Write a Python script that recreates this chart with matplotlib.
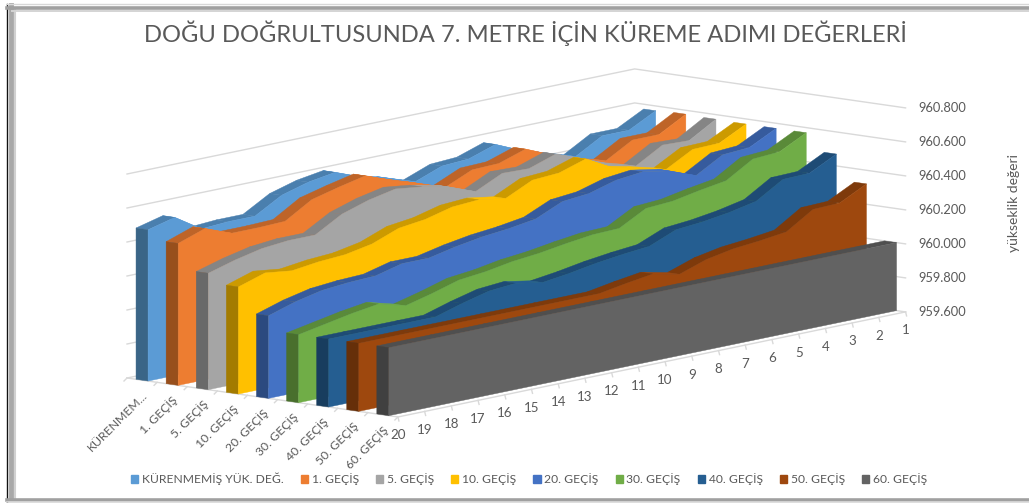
import matplotlib
matplotlib.use("Agg")
import matplotlib.pyplot as plt
from matplotlib.patches import Polygon, Patch
from matplotlib.lines import Line2D

plt.rcParams['font.family'] = ['Lato', 'DejaVu Sans']

TITLE = "DOĞU DOĞRULTUSUNDA 7. METRE İÇİN KÜREME ADIMI DEĞERLERİ"
Z_LABEL = "yükseklik değeri"
categories = list(range(20, 0, -1))
series_names = ["KÜRENMEMİŞ YÜK. DEĞ.", "1. GEÇİŞ", "5. GEÇİŞ", "10. GEÇİŞ", "20. GEÇİŞ",
                "30. GEÇİŞ", "40. GEÇİŞ", "50. GEÇİŞ", "60. GEÇİŞ"]
axis_names = ["KÜRENMEM...", "1. GEÇİŞ", "5. GEÇİŞ", "10. GEÇİŞ", "20. GEÇİŞ",
              "30. GEÇİŞ", "40. GEÇİŞ", "50. GEÇİŞ", "60. GEÇİŞ"]
z_ticks = [959.6, 959.8, 960.0, 960.2, 960.4, 960.6, 960.8]

# values listed from category 20 down to category 1
s_kurenmemis = [960.49, 960.53, 960.43, 960.44, 960.44, 960.53, 960.575, 960.60, 960.54, 960.50,
                960.447, 960.507, 960.516, 960.569, 960.50, 960.45, 960.40, 960.49, 960.49, 960.572]
s_gecis1 = [960.435, 960.49, 960.43, 960.43, 960.435, 960.53, 960.57, 960.605, 960.547, 960.495,
            960.44, 960.51, 960.515, 960.567, 960.50, 960.437, 960.40, 960.49, 960.49, 960.577]
s_gecis5 = [960.285, 960.33, 960.365, 960.38, 960.38, 960.47, 960.52, 960.553, 960.533, 960.50,
            960.44, 960.515, 960.51, 960.563, 960.505, 960.44, 960.395, 960.486, 960.48, 960.573]
s_gecis10 = [960.23, 960.28, 960.26, 960.28, 960.29, 960.32, 960.38, 960.40, 960.44, 960.45,
             960.425, 960.50, 960.51, 960.56, 960.476, 960.44, 960.40, 960.486, 960.49, 960.57]
s_gecis20 = [960.086, 960.135, 960.17, 960.184, 960.19, 960.23, 960.23, 960.264, 960.29, 960.306,
             960.33, 960.40, 960.415, 960.46, 960.477, 960.45, 960.39, 960.48, 960.49, 960.57]
s_gecis30 = [960.00, 960.03, 960.06, 960.083, 960.04, 960.08, 960.126, 960.143, 960.17, 960.186,
             960.21, 960.23, 960.235, 960.32, 960.33, 960.36, 960.385, 960.48, 960.49, 960.57]
s_gecis40 = [960.00, 960.00, 960.00, 960.00, 960.00, 960.047, 960.087, 960.10, 960.072, 960.093,
             960.12, 960.14, 960.155, 960.22, 960.234, 960.257, 960.29, 960.386, 960.39, 960.47]
s_gecis50 = [960.00, 960.00, 960.00, 960.00, 960.00, 960.00, 960.00, 960.00, 960.00, 960.00,
             960.027, 960.05, 960.016, 960.07, 960.10, 960.115, 960.135, 960.235, 960.24, 960.32]
s_gecis60 = [960.00] * 20
all_series = [s_kurenmemis, s_gecis1, s_gecis5, s_gecis10, s_gecis20,
              s_gecis30, s_gecis40, s_gecis50, s_gecis60]

front_colors = ['#5B9BD5', '#ED7D31', '#A5A5A5', '#FFC000', '#4472C4', '#70AD47', '#255E91', '#9E480E', '#636363']
top_colors = ['#4A7FAE', '#BE6428', '#858585', '#CC9A00', '#365B9D', '#5A8A39', '#1E4B75', '#7E3A0B', '#4F4F4F']
side_colors = ['#3A6587', '#974F1C', '#696969', '#A37B00', '#2B4A7F', '#496F2D', '#183D5E', '#662F09', '#404040']
grid_c = '#D9D9D9'
text_c = '#595959'

# oblique projection of the 3D chart box onto figure pixels
OX, OY = 127.0, 378.0          # back-left floor corner
DSX, DSY = 30.1, 4.33          # per series slot
DCX, DCY = 26.72, -5.53        # per category step
ZSCALE = 170.0                 # pixels per unit of elevation
Z0 = 959.6
NS = len(all_series)
NC = len(categories)


def project(k, s, z=Z0):
    return (OX + s * DSX + k * DCX, OY + s * DSY + k * DCY - (z - Z0) * ZSCALE)


fig = plt.figure(figsize=(10.29, 5.03), dpi=100, facecolor='white')
ax = fig.add_axes([0, 0, 1, 1])
ax.set_xlim(0, 1029)
ax.set_ylim(503, 0)
ax.axis('off')

# window frame
ax.add_line(Line2D([6.5, 6.5], [4, 503], color='#111111', lw=1.0))
ax.add_line(Line2D([10.5, 10.5], [5, 498], color='#A8A8A8', lw=3.5))
ax.add_line(Line2D([14.5, 14.5], [9, 498], color='#D0D0D0', lw=1.5))
ax.add_line(Line2D([7, 1029], [4, 4], color='#D8D8D8', lw=1.0))
ax.add_line(Line2D([7, 1029], [8, 8], color='#A0A0A0', lw=2.6))
ax.add_line(Line2D([12, 1029], [10.8, 10.8], color='#D4D4D4', lw=1.4))
ax.add_line(Line2D([7, 1029], [499.5, 499.5], color='#A0A0A0', lw=2.6))
ax.add_line(Line2D([7, 1029], [502, 502], color='#D8D8D8', lw=1.2))

# walls and floor lines
for zt in z_ticks:
    a, b, c = project(0, 0, zt), project(NC - 1, 0, zt), project(NC - 1, NS, zt)
    ax.plot([a[0], b[0], c[0]], [a[1], b[1], c[1]], color=grid_c, lw=1.0, zorder=1, solid_joinstyle='miter')
    ax.text(c[0] + 12.5, c[1] + 0.3, f"{zt:.3f}", color=text_c, fontsize=9.3, ha='left', va='center')

a, b, c = project(0, 0), project(0, NS), project(NC - 1, NS)
ax.plot([a[0], b[0], c[0]], [a[1], b[1], c[1]], color=grid_c, lw=1.0, zorder=1)
for i in range(NS + 1):
    p = project(0, i)
    ax.plot([p[0], p[0] - 3], [p[1], p[1] + 3], color=grid_c, lw=1.0, zorder=1)
for k, cat in enumerate(categories):
    p = project(k, NS)
    ax.plot([p[0], p[0] + 1], [p[1], p[1] + 4], color=grid_c, lw=1.0, zorder=1)
    ax.text(p[0], p[1] + 18.5, str(cat), color=text_c, fontsize=9.6, ha='center', va='center')

for i, name in enumerate(axis_names):
    p = project(0, i + 0.5)
    ax.text(p[0] - 0.5, p[1] + 9.5, name, color=text_c, fontsize=8.8, rotation=45,
            rotation_mode='anchor', ha='right', va='top')

# series slabs, back to front
for i, vals in enumerate(all_series):
    sb, sf = i + 0.3, i + 0.7
    z = 3 + i
    # top band: falling stretches catch the light, the rest is shaded
    for k in range(NC - 1, 0, -1):
        quad = [project(k - 1, sb, vals[k - 1]), project(k, sb, vals[k]),
                project(k, sf, vals[k]), project(k - 1, sf, vals[k - 1])]
        col = front_colors[i] if vals[k] < vals[k - 1] - 0.02 else top_colors[i]
        ax.add_patch(Polygon(quad, closed=True, fc=col, ec=col, lw=0.3, zorder=z))
    # left end
    side = [project(0, sb), project(0, sb, vals[0]), project(0, sf, vals[0]), project(0, sf)]
    ax.add_patch(Polygon(side, closed=True, fc=side_colors[i], ec=side_colors[i], lw=0.3, zorder=z))
    # front face
    face = [project(k, sf, vals[k]) for k in range(NC)] + [project(NC - 1, sf), project(0, sf)]
    ax.add_patch(Polygon(face, closed=True, fc=front_colors[i], ec=front_colors[i], lw=0.3, zorder=z + 0.5))

ax.text(525, 33, TITLE, color=text_c, fontsize=17.1, ha='center', va='center')
ax.text(1014, 203, Z_LABEL, color=text_c, fontsize=10.0, rotation=90, ha='center', va='center')

handles = [Patch(fc=c, ec=c) for c in front_colors]
leg = ax.legend(handles, series_names, ncol=9, loc='center', bbox_to_anchor=(529 / 1029, 1 - 479 / 503),
                frameon=False, fontsize=8.7, labelcolor=text_c, handlelength=0.6, handleheight=0.6,
                handletextpad=0.3, columnspacing=1.42, borderpad=0)

fig.savefig("out.png", dpi=100)
